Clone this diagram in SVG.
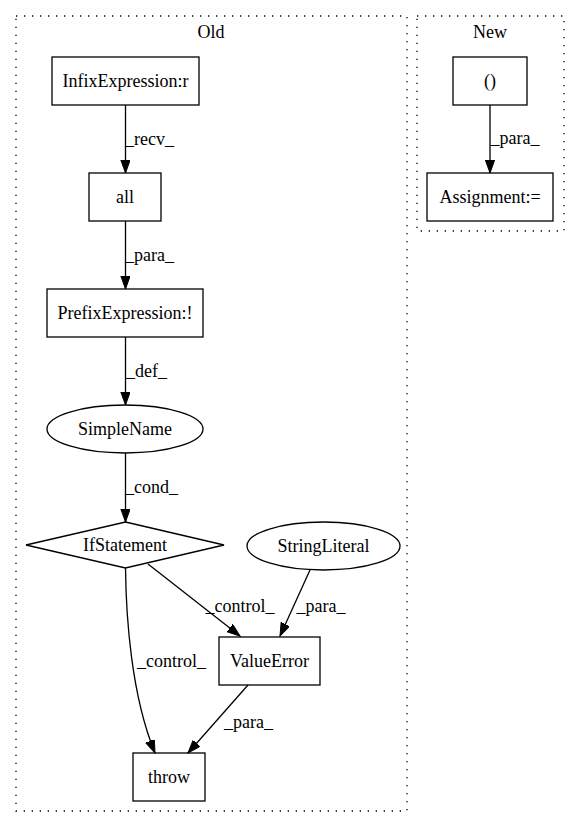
<svg xmlns="http://www.w3.org/2000/svg" width="580" height="828" viewBox="0 0 580 828">
<style>
text{font-family:"Liberation Serif","Times New Roman",serif;font-size:18px;fill:#000}
.n{text-anchor:middle}
.shape{fill:none;stroke:#000;stroke-width:1.3}
.cl{fill:none;stroke:#000;stroke-width:1.3;stroke-dasharray:1.3,6.7}
.e{fill:none;stroke:#000;stroke-width:1.3;marker-end:url(#ah)}
.lbl{text-anchor:middle}
</style>
<defs>
<marker id="ah" markerUnits="userSpaceOnUse" markerWidth="14" markerHeight="10" refX="13" refY="4.67" orient="auto">
<path d="M0,0 L13,4.67 L0,9.33 z" fill="#000" stroke="#000" stroke-width="1"/>
</marker>
</defs>
<rect width="580" height="828" fill="#fff"/>
<g id="cluster_old">
<rect class="cl" x="16" y="16" width="391" height="795"/>
<text class="n" x="211" y="38">Old</text>
</g>
<g id="cluster_new">
<rect class="cl" x="417" y="16" width="147" height="215"/>
<text class="n" x="490" y="38">New</text>
</g>
<g id="connectors">
<path class="e" d="M125.5,105 L125.5,173"/>
<text class="lbl" x="149.5" y="145">_recv_</text>
<path class="e" d="M125.5,221 L125.5,289"/>
<text class="lbl" x="149.5" y="261">_para_</text>
<path class="e" d="M125.5,337 L125.5,405"/>
<text class="lbl" x="146.5" y="377">_def_</text>
<path class="e" d="M125.5,453 L125.5,522"/>
<text class="lbl" x="151.5" y="493">_cond_</text>
<path class="e" d="M148,564 L240,636"/>
<text class="lbl" x="240" y="612">_control_</text>
<path class="e" d="M310,570 L280,636"/>
<text class="lbl" x="321" y="612">_para_</text>
<path class="e" d="M125.5,568 C126,615 131,695 155,753"/>
<text class="lbl" x="171.5" y="667">_control_</text>
<path class="e" d="M248,685 L188,753"/>
<text class="lbl" x="248.5" y="728">_para_</text>
<path class="e" d="M490,105 L490,173"/>
<text class="lbl" x="515" y="144">_para_</text>
</g>
<g id="n_infix">
<rect class="shape" x="52" y="57" width="147" height="48"/>
<text class="n" x="125.5" y="87">InfixExpression:r</text>
</g>
<g id="n_all">
<rect class="shape" x="89" y="173" width="72" height="48"/>
<text class="n" x="125" y="203">all</text>
</g>
<g id="n_prefix">
<rect class="shape" x="47" y="289" width="156" height="48"/>
<text class="n" x="125" y="319">PrefixExpression:!</text>
</g>
<g id="n_simplename">
<ellipse class="shape" cx="125" cy="429" rx="78" ry="24"/>
<text class="n" x="125" y="435">SimpleName</text>
</g>
<g id="n_if">
<polygon class="shape" points="125.5,522 224,545 125.5,568 26,545"/>
<text class="n" x="125" y="551">IfStatement</text>
</g>
<g id="n_string">
<ellipse class="shape" cx="323.5" cy="546" rx="76.5" ry="24"/>
<text class="n" x="323.5" y="552">StringLiteral</text>
</g>
<g id="n_valueerror">
<rect class="shape" x="219" y="637" width="101" height="48"/>
<text class="n" x="269.5" y="667">ValueError</text>
</g>
<g id="n_throw">
<rect class="shape" x="133" y="753" width="72" height="48"/>
<text class="n" x="169" y="783">throw</text>
</g>
<g id="n_paren">
<rect class="shape" x="453" y="57" width="74" height="48"/>
<text class="n" x="490" y="87">()</text>
</g>
<g id="n_assign">
<rect class="shape" x="427" y="173" width="126" height="48"/>
<text class="n" x="490" y="203">Assignment:=</text>
</g>
</svg>
